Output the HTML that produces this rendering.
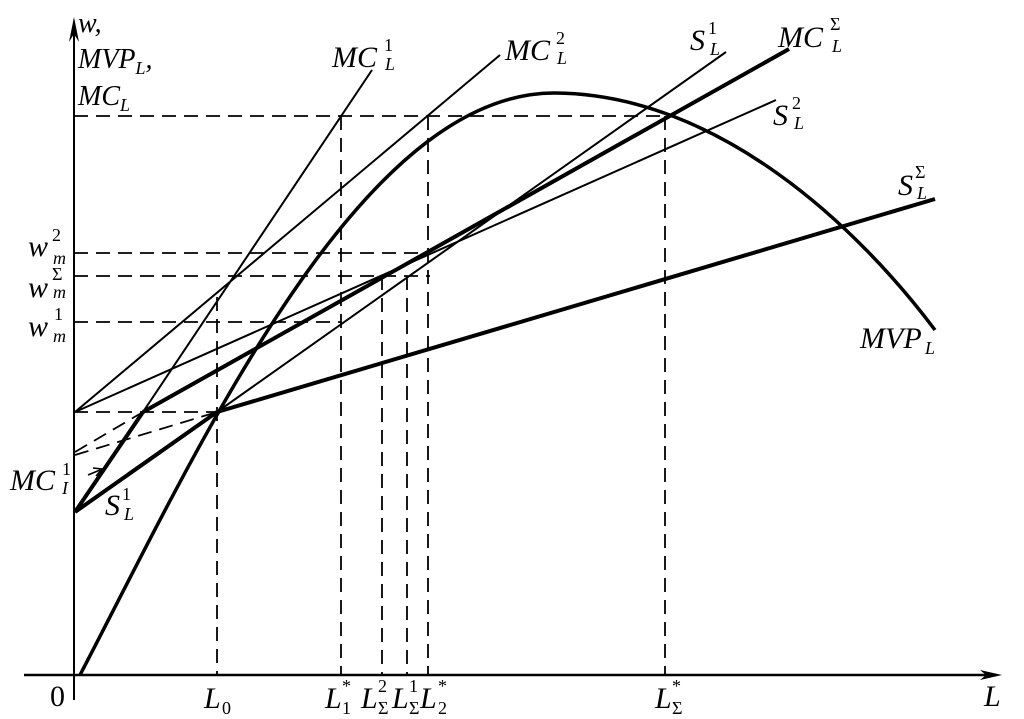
<!DOCTYPE html>
<html><head><meta charset="utf-8"><style>
html,body{margin:0;padding:0;background:#fff;}
svg{display:block;}
text{font-family:"Liberation Serif",serif;font-style:italic;fill:#000;}
.s{font-size:18px;}
.u{font-style:normal;}
</style></head><body>
<svg width="1024" height="719" viewBox="0 0 1024 719" xmlns="http://www.w3.org/2000/svg">
<g stroke="#000" fill="none">
<line x1="74" y1="700" x2="74" y2="22" stroke-width="2"/>
<path d="M69,42 L74,17 L79,42 L74,34 Z" fill="#000" stroke="none"/>
<line x1="24" y1="675" x2="995" y2="675" stroke-width="2.5"/>
<path d="M980,670 L1002,675 L980,680 L986,675 Z" fill="#000" stroke="none"/>
<g stroke-width="1.8" stroke-dasharray="14,8">
<line x1="74" y1="116" x2="667" y2="116"/>
<line x1="74" y1="253" x2="428" y2="253"/>
<line x1="74" y1="276" x2="430" y2="276"/>
<line x1="74" y1="322" x2="341" y2="322"/>
<line x1="74" y1="412" x2="217" y2="412"/>
<line x1="217" y1="297" x2="217" y2="675"/>
<line x1="341" y1="116" x2="341" y2="675"/>
<line x1="382" y1="276" x2="382" y2="675"/>
<line x1="407" y1="276" x2="407" y2="675"/>
<line x1="428" y1="116" x2="428" y2="675"/>
<line x1="665" y1="116" x2="665" y2="675"/>
<line x1="75" y1="452" x2="143" y2="412"/>
<line x1="75" y1="455" x2="217" y2="412"/>
</g>
<g stroke-width="2">
<line x1="143" y1="412" x2="372" y2="70"/>
<line x1="75" y1="412" x2="500" y2="55"/>
<line x1="75" y1="412" x2="776" y2="100"/>
<line x1="217" y1="412" x2="726" y2="52"/>
</g>
<g stroke-width="4">
<line x1="75" y1="512" x2="143" y2="412"/>
<line x1="75" y1="512" x2="217" y2="412"/>
<line x1="217" y1="412" x2="935" y2="199"/>
<line x1="143" y1="412" x2="789" y2="49"/>
</g>
<path d="M80,675 C200,445 360,92 555,93 C720,94 860,230 935,330" stroke-width="3.5"/>
<path d="M88,475 L100,470" stroke-width="1.5"/>
<path d="M93,468 L102,469 L96,476" stroke-width="1.5"/>
</g>
<text x="78" y="32" font-size="28">w,</text>
<text x="78" y="68" font-size="28">MVP<tspan class="s" dy="6">L</tspan><tspan dy="-6">,</tspan></text>
<text x="78" y="105" font-size="28">MC<tspan class="s" dy="6">L</tspan></text>
<text x="28" y="256" font-size="30">w</text><text x="52" y="241" class="s u">2</text><text x="53" y="264" class="s">m</text>
<text x="28" y="297" font-size="30">w</text><text x="52" y="280" class="s u">Σ</text><text x="53" y="298" class="s">m</text>
<text x="28" y="336" font-size="30">w</text><text x="54" y="320" class="s u">1</text><text x="53" y="342" class="s">m</text>
<text x="10" y="490" font-size="30">MC</text><text x="62" y="475" class="s u">1</text><text x="62" y="494" class="s">I</text>
<text x="105" y="515" font-size="30">S</text><text x="122" y="500" class="s u">1</text><text x="124" y="520" class="s">L</text>
<text x="332" y="67" font-size="30">MC</text><text x="384" y="51" class="s u">1</text><text x="385" y="70" class="s">L</text>
<text x="505" y="60" font-size="30">MC</text><text x="556" y="44" class="s u">2</text><text x="557" y="64" class="s">L</text>
<text x="690" y="50" font-size="30">S</text><text x="708" y="34" class="s u">1</text><text x="710" y="55" class="s">L</text>
<text x="778" y="47" font-size="30">MC</text><text x="830" y="30" class="s u">Σ</text><text x="832" y="52" class="s">L</text>
<text x="773" y="125" font-size="30">S</text><text x="792" y="109" class="s u">2</text><text x="794" y="129" class="s">L</text>
<text x="898" y="195" font-size="30">S</text><text x="915" y="178" class="s u">Σ</text><text x="917" y="199" class="s">L</text>
<text x="860" y="348" font-size="30">MVP</text><text x="925" y="354" class="s">L</text>
<text x="50" y="706" font-size="30" class="u">0</text>
<text x="984" y="706" font-size="30">L</text>
<text x="204" y="708" font-size="30">L</text><text x="222" y="714" class="s u">0</text>
<text x="325" y="708" font-size="30">L</text><text x="342" y="692" class="s u">*</text><text x="342" y="714" class="s u">1</text>
<text x="361" y="708" font-size="30">L</text><text x="378" y="692" class="s u">2</text><text x="378" y="714" class="s u">Σ</text>
<text x="392" y="708" font-size="30">L</text><text x="409" y="692" class="s u">1</text><text x="409" y="714" class="s u">Σ</text>
<text x="420" y="708" font-size="30">L</text><text x="438" y="692" class="s u">*</text><text x="438" y="714" class="s u">2</text>
<text x="655" y="708" font-size="30">L</text><text x="672" y="692" class="s u">*</text><text x="672" y="714" class="s u">Σ</text>
</svg>
</body></html>
